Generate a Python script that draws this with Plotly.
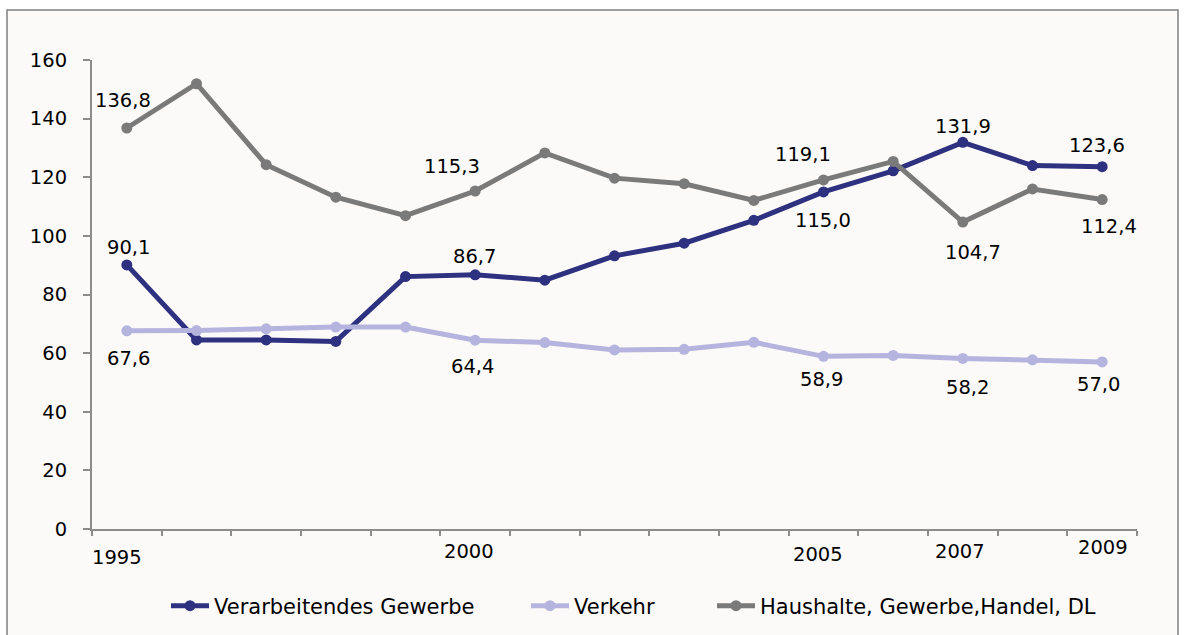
import plotly.graph_objects as go

years = list(range(1995, 2010))
verarbeitendes = [90.1, 64.5, 64.5, 64.0, 86.1, 86.7, 84.9, 93.2, 97.5, 105.3, 115.0, 122.2, 131.9, 124.0, 123.6]
verkehr = [67.6, 67.7, 68.3, 68.9, 68.9, 64.4, 63.6, 61.1, 61.3, 63.7, 58.9, 59.2, 58.2, 57.7, 57.0]
haushalte = [136.8, 151.9, 124.3, 113.2, 106.9, 115.3, 128.3, 119.7, 117.8, 112.1, 119.1, 125.4, 104.7, 116.0, 112.4]
series_names = ["Verarbeitendes Gewerbe", "Verkehr", "Haushalte, Gewerbe,Handel, DL"]
year_labels = ["1995", "2000", "2005", "2007", "2009"]
labelled_years = [1995, 2000, 2005, 2007, 2009]

colors = ["#2E3080", "#B4B4DF", "#7A7A7A"]
FONT = "DejaVu Sans, Liberation Sans, Arial, sans-serif"
legend_ids = ["legend", "legend2", "legend3"]
legend_px = [166, 526, 712]  # left edge (pixels) of each legend entry

fig = go.Figure()
for name, vals, col, lid in zip(series_names, [verarbeitendes, verkehr, haushalte], colors, legend_ids):
    fig.add_trace(go.Scatter(
        x=years, y=vals, name=name, mode="lines+markers", legend=lid,
        line=dict(color=col, width=5), marker=dict(color=col, size=11),
    ))

# data label offsets (xshift, yshift) per series per labelled year
offsets = {
    0: {1995: (2, 17), 2000: (-1, 18), 2005: (-1, -29), 2007: (0, 16), 2009: (-5, 21)},
    1: {1995: (2, -28), 2000: (-3, -26), 2005: (-2, -23), 2007: (5, -29), 2009: (-4, -23)},
    2: {1995: (-4, 28), 2000: (-23, 25), 2005: (-21, 25), 2007: (10, -30), 2009: (7, -27)},
}
annotations = []
for si, vals in enumerate([verarbeitendes, verkehr, haushalte]):
    for yr in labelled_years:
        v = vals[years.index(yr)]
        dx, dy = offsets[si][yr]
        annotations.append(dict(
            x=yr, y=v, xref="x", yref="y", text=f"{v:.1f}".replace(".", ","),
            showarrow=False, xshift=dx, yshift=dy, xanchor="center", yanchor="middle",
            font=dict(family=FONT, size=19.5, color="#000000"),
        ))

# x-axis year labels (slightly staggered as in the original)
label_dx = [-10, -6, -6, -3, 1]
label_dy = [-28, -22, -25, -22, -18]
for lab, yr, dx, dy in zip(year_labels, labelled_years, label_dx, label_dy):
    annotations.append(dict(
        x=yr, y=0, xref="x", yref="paper", text=lab, showarrow=False,
        xanchor="center", yanchor="middle",
        xshift=dx, yshift=dy, font=dict(family=FONT, size=19.5, color="#000000"),
    ))

legend_common = dict(
    orientation="h", xanchor="left", yref="container", y=(635 - 606) / 635, yanchor="middle",
    font=dict(family=FONT, size=21, color="#000000"),
    bgcolor="rgba(0,0,0,0)", itemwidth=38, borderwidth=0,
)
legend_layout = {}
for lid, px in zip(legend_ids, legend_px):
    legend_layout[lid] = dict(legend_common, xref="container", x=px / 1185)

fig.update_layout(
    width=1185, height=635,
    margin=dict(l=92, r=48, t=60, b=106, autoexpand=False),
    paper_bgcolor="#FFFFFF",
    plot_bgcolor="rgba(0,0,0,0)",
    font=dict(family=FONT, size=19, color="#000000"),
    showlegend=True,
    xaxis=dict(
        range=[1994.5, 2009.5], tickmode="array",
        tickvals=[y - 0.5 for y in years] + [2009.5],
        showticklabels=False, ticks="outside", ticklen=5, tickwidth=2, tickcolor="#8C8C8C",
        showline=True, linecolor="#8C8C8C", linewidth=2, showgrid=False, zeroline=False,
    ),
    yaxis=dict(
        range=[0, 160], dtick=20, tick0=0, ticks="outside", ticklen=7, tickwidth=2,
        tickcolor="#8C8C8C", showline=True, linecolor="#8C8C8C", linewidth=2,
        showgrid=False, zeroline=False, ticklabelstandoff=12,
        tickfont=dict(family=FONT, size=19.5, color="#000000"),
    ),
    annotations=annotations,
    shapes=[dict(
        type="rect", xref="paper", yref="paper", layer="below",
        x0=(7 - 92) / 1045, x1=(1178 - 92) / 1045,
        y0=(529 - 645) / 469, y1=(529 - 10) / 469,
        fillcolor="#FBFAF8", line=dict(color="#808080", width=1.5),
    )],
    **legend_layout,
)

fig.write_html(
    "out.html",
    config={"displayModeBar": False},
    post_script="document.body.style.margin='0';document.body.style.overflow='hidden';",
)
